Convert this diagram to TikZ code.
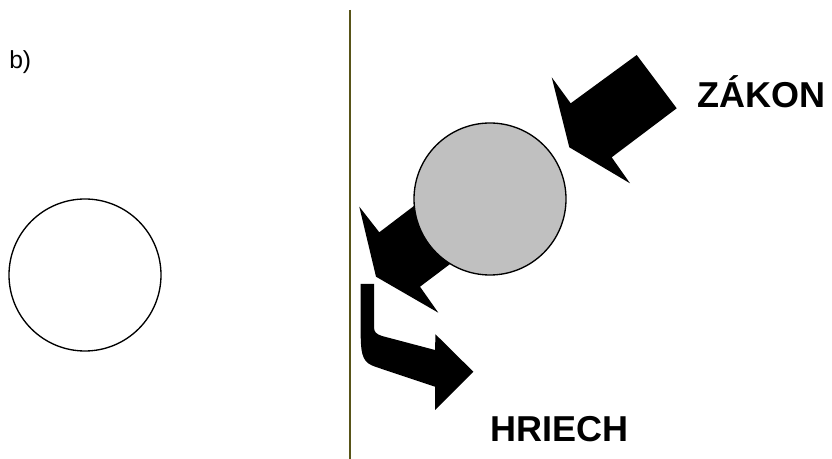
\documentclass[tikz,border=0pt]{standalone}
\usepackage{fontspec}
\setmainfont{Liberation Sans}
\usepackage{xcolor}
\usepackage{tikz}
\usetikzlibrary{positioning}
\definecolor{olv}{RGB}{88,84,24}
\definecolor{ballg}{RGB}{192,192,192}
\tikzset{
  blob/.style={fill=black, draw=none},
  ball/.style={circle, draw=black, line width=1pt, inner sep=0pt, minimum size=114pt},
  word/.style={font=\fontsize{27}{30}\selectfont\bfseries, inner sep=0pt, anchor=base west},
  tag/.style={font=\fontsize{18.5}{22}\selectfont, inner sep=0pt, anchor=base west}
}

\begin{document}
\begin{tikzpicture}[x=0.75pt, y=-0.75pt]
\useasboundingbox (0,0) rectangle (832,459);
% ---- left half: empty ball ----
\node[tag] (lbl) at (9,69) {b)};
\node[ball, fill=white] (empty) at (85,275) {};
% ---- divider ----
\coordinate (divtop) at (349.5,10);
\coordinate (divbot) at (349.5,459);
\draw[olv, line width=1.5pt] (divtop) -- (divbot);
% ---- arrows (drawn under the ball) ----
\fill[blob] (636.7,55) -- (676.7,108.3) -- (611.7,157.3) -- (630,183.3)
  -- (569.3,147.3) -- (551.7,77.3) -- (570.7,103.3) -- cycle;
\fill[blob] (431,193) -- (379.3,232.3) -- (359.3,206.7) -- (376,276.7)
  -- (438.3,312.7) -- (420,286.7) -- (472,247.5) -- cycle;
\fill[blob] (360.7,284) -- (360.7,334)
  .. controls (360.7,358) and (364,363) .. (376,367)
  -- (435,386.7) -- (435,410) -- (473.3,371.7) -- (435.5,334.3) -- (435,350)
  -- (382,336) .. controls (376,334) and (374,332) .. (374,327)
  -- (374,284) -- cycle;
% ---- right half: grey ball and words ----
\node[ball, fill=ballg] (full) at (490,199) {};
\node[word] (zakon) at (697,108) {ZÁKON};
\node[word] (hriech) at (490,442) {HRIECH};
\end{tikzpicture}
\end{document}
